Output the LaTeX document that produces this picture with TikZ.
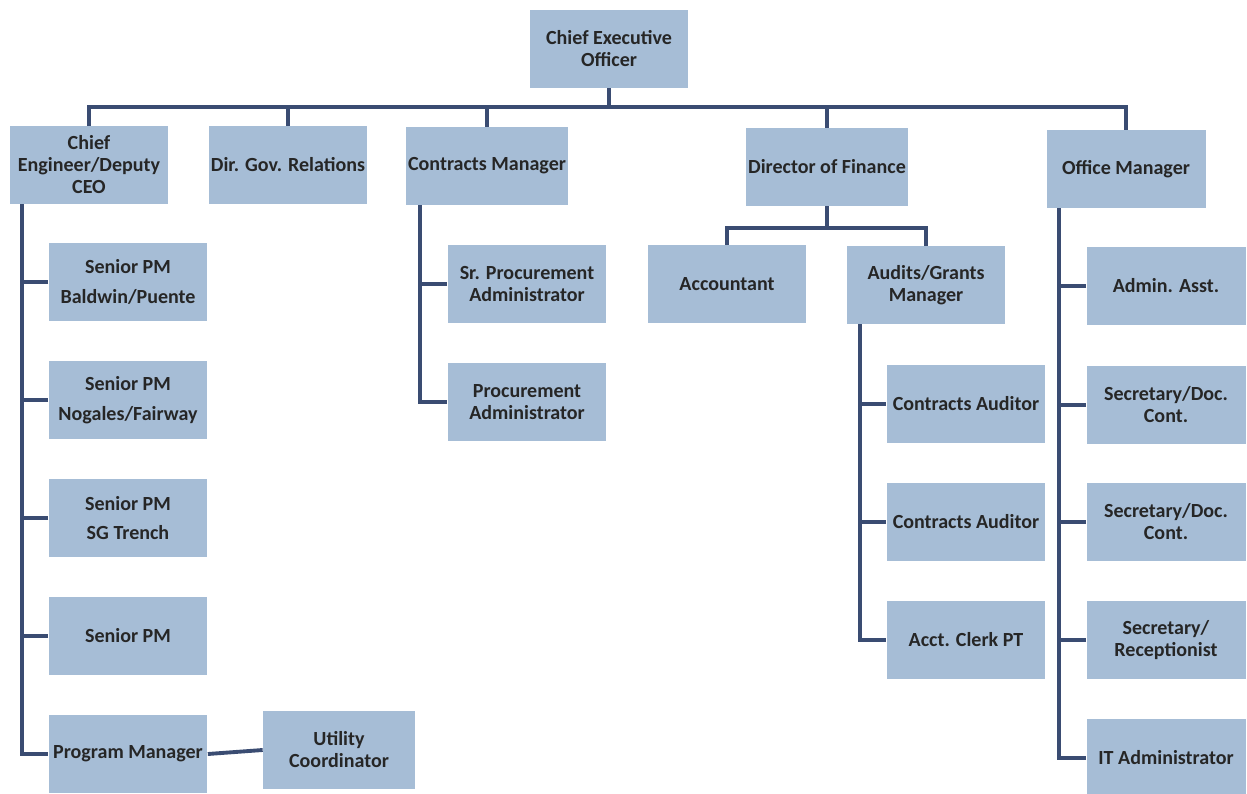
\documentclass[tikz,border=0pt]{standalone}
\usepackage{fontspec}
\setmainfont{Carlito}
\usepackage{tikz}
\usetikzlibrary{positioning,calc}
\definecolor{boxfill}{RGB}{166,189,214}
\definecolor{linecol}{RGB}{58,76,114}

\begin{document}
\begin{tikzpicture}[x=0.02cm, y=-0.02cm,
  box/.style={fill=boxfill, minimum width=3.18cm, minimum height=1.56cm, inner sep=1pt, font=\bfseries\fontsize{11.4}{12.5}\selectfont, align=center, text=black!85},
  conn/.style={draw=linecol, line width=2.2pt},
]
\useasboundingbox (0,0) rectangle (1247,794);

% ===== top level =====
\node[box] (ceo) at (609,49) {Chief Executive\\Officer};
\coordinate (bus) at (0,107);

\node[box] (eng)  at (89,165)   {Chief\\Engineer/Deputy\\CEO};
\node[box] (gov)  at (288,165)  {Dir. Gov. Relations};
\node[box] (cmgr) at (487,166)  {Contracts Manager};
\node[box] (fin)  at (827,167)  {Director of Finance};
\node[box] (off)  at (1126,169) {Office Manager};

\draw[conn] (ceo.south) -- (ceo.south |- bus);
\draw[conn] (eng.north) -- (eng.north |- bus) -- (off.north |- bus) -- (off.north);
\draw[conn] (gov.north) -- (gov.north |- bus);
\draw[conn] (cmgr.north) -- (cmgr.north |- bus);
\draw[conn] (fin.north) -- (fin.north |- bus);

% ===== chief engineer =====
\coordinate (espine) at (22,0);
\node[box] (pm1) at (128,282) {Senior PM\\[4.5pt]Baldwin/Puente};
\node[box] (pm2) at (128,400) {Senior PM\\[4.5pt]Nogales/Fairway};
\node[box] (pm3) at (128,518) {Senior PM\\[4.5pt]SG Trench};
\node[box] (pm4) at (128,636) {Senior PM};
\node[box] (prog) at (128,754) {Program Manager};
\node[box, minimum width=3.04cm] (util) at (339,750) {Utility\\Coordinator};

\draw[conn] (eng.south -| espine) |- (prog.west);
\foreach \n in {pm1,pm2,pm3,pm4}
  \draw[conn] (\n.west) -- (\n.west -| espine);
\draw[conn] (prog.east) -- (util.west);

% ===== contracts manager =====
\coordinate (cspine) at (420,0);
\node[box] (sproc) at (527,284) {Sr. Procurement\\Administrator};
\node[box] (proc)  at (527,402) {Procurement\\Administrator};

\draw[conn] (cmgr.south -| cspine) |- (proc.west);
\draw[conn] (sproc.west) -- (sproc.west -| cspine);

% ===== director of finance =====
\coordinate (fbus) at (0,228);
\node[box] (acct)  at (727,284) {Accountant};
\node[box] (audit) at (926,285) {Audits/Grants\\Manager};

\draw[conn] (fin.south) -- (fin.south |- fbus);
\draw[conn] (acct.north) -- (acct.north |- fbus) -- (audit.north |- fbus) -- (audit.north);

\coordinate (aspine) at (860,0);
\node[box] (ca1)   at (966,404) {Contracts Auditor};
\node[box] (ca2)   at (966,522) {Contracts Auditor};
\node[box] (clerk) at (966,640) {Acct. Clerk PT};

\draw[conn] (audit.south -| aspine) |- (clerk.west);
\draw[conn] (ca1.west) -- (ca1.west -| aspine);
\draw[conn] (ca2.west) -- (ca2.west -| aspine);

% ===== office manager =====
\coordinate (ospine) at (1059,0);
\node[box] (adm)  at (1166,286) {Admin. Asst.};
\node[box] (sec1) at (1166,405) {Secretary/Doc.\\Cont.};
\node[box] (sec2) at (1166,522) {Secretary/Doc.\\Cont.};
\node[box] (rec)  at (1166,640) {Secretary/\\Receptionist};
\node[box] (it)   at (1166,758) {IT Administrator};

\draw[conn] (off.south -| ospine) |- (it.west);
\foreach \n in {adm,sec1,sec2,rec}
  \draw[conn] (\n.west) -- (\n.west -| ospine);

\end{tikzpicture}
\end{document}
